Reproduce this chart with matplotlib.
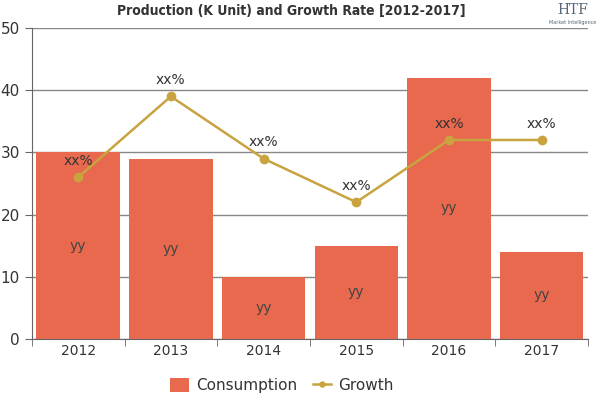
import matplotlib.pyplot as plt
import numpy as np

years = ['2012', '2013', '2014', '2015', '2016', '2017']
consumption = [30, 29, 10, 15, 42, 14]
growth = [26, 39, 29, 22, 32, 32]
bar_labels = ['yy'] * 6
growth_labels = ['xx%'] * 6

bar_color = '#E8694E'
line_color = '#C9A340'

fig = plt.figure(figsize=(6, 4), dpi=100)
ax = fig.add_axes([0.053, 0.1525, 0.927, 0.7775])

x = np.arange(len(years))
bars = ax.bar(x, consumption, width=0.9, color=bar_color, label='Consumption', zorder=2)
line, = ax.plot(x, growth, color=line_color, lw=1.8, marker='o', ms=6, label='Growth', zorder=3)

for xi, v, t in zip(x, consumption, bar_labels):
    ax.text(xi, v / 2, t, ha='center', va='center', fontsize=10, color='#444444', zorder=4)
for xi, v, t in zip(x, growth, growth_labels):
    ax.text(xi, v + 1.5, t, ha='center', va='bottom', fontsize=10, color='#333333', zorder=4)

ax.set_xlim(-0.5, 5.5)
ax.set_ylim(0, 50)
ax.set_yticks(range(0, 51, 10))
ax.set_xticks(x)
ax.set_xticklabels(years)
ax.set_xticks(np.arange(-0.5, 6, 1), minor=True)
ax.tick_params(axis='x', which='major', length=0, labelsize=10, colors='#333333')
ax.tick_params(axis='x', which='minor', length=5, color='#666666')
ax.tick_params(axis='y', length=5, labelsize=11, colors='#333333', color='#666666')
ax.grid(axis='y', color='#888888', lw=1, zorder=0)
for s in ['top', 'right']:
    ax.spines[s].set_visible(False)
ax.spines['left'].set_color('#666666')
ax.spines['bottom'].set_color('#666666')

fig.text(0.485, 0.973, 'Production (K Unit) and Growth Rate [2012-2017]', ha='center', va='center',
         fontsize=10, fontweight='heavy', fontstretch='condensed', color='#333333')
fig.text(0.955, 0.975, 'HTF', ha='center', va='center', fontsize=10, color='#556677', family='serif')
fig.text(0.955, 0.943, 'Market Intelligence', ha='center', va='center', fontsize=3.5, color='#556677')

leg = ax.legend([bars, line], ['Consumption', 'Growth'], loc='upper center',
                bbox_to_anchor=(0.45, -0.08), ncol=2, frameon=False,
                fontsize=11, handlelength=1.2, handleheight=1.1, columnspacing=1.0,
                handletextpad=0.5, markerscale=0.6)
for t in leg.get_texts():
    t.set_color('#333333')

fig.savefig('out.png')
